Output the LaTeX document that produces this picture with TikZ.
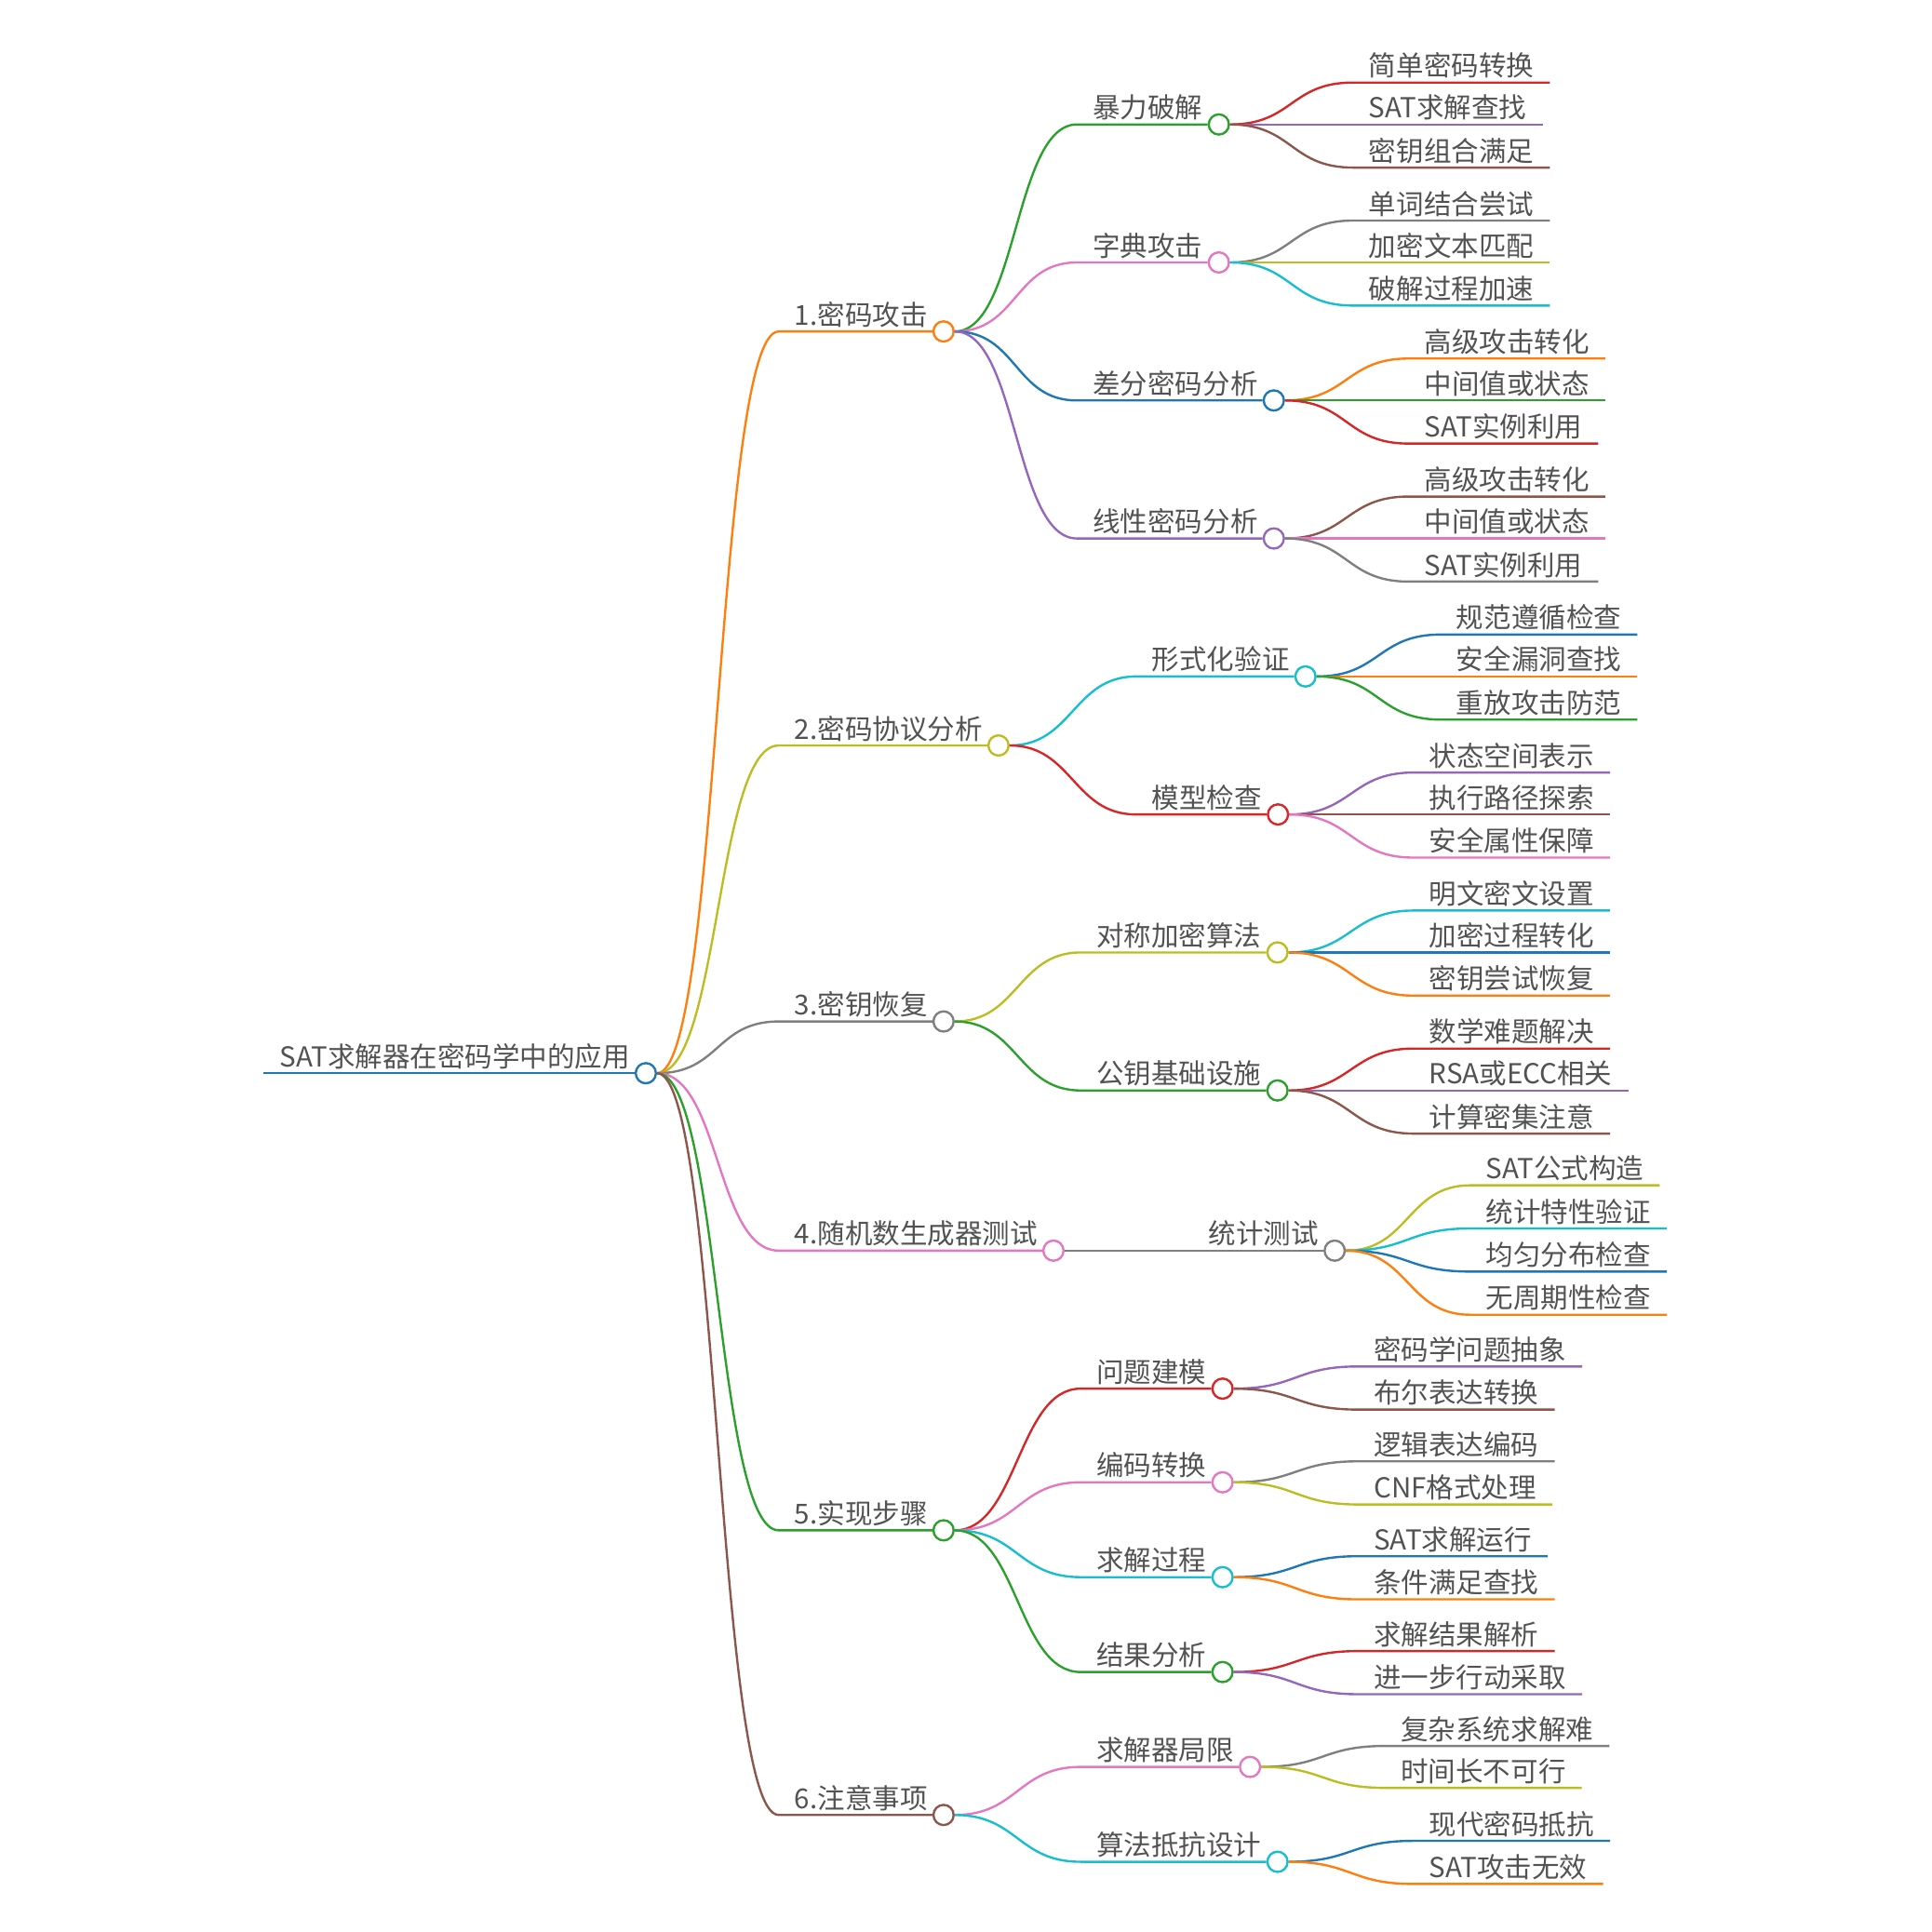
\documentclass[tikz,border=0pt]{standalone}
\usepackage{fontspec}
\setmainfont{Noto Sans CJK SC}
\usepackage{xcolor}
\usepackage{tikz}

\definecolor{cblue}{HTML}{1F77B4}
\definecolor{corange}{HTML}{FF7F0E}
\definecolor{cgreen}{HTML}{2CA02C}
\definecolor{cred}{HTML}{D62728}
\definecolor{cpurple}{HTML}{9467BD}
\definecolor{cbrown}{HTML}{8C564B}
\definecolor{cpink}{HTML}{E377C2}
\definecolor{cgray}{HTML}{7F7F7F}
\definecolor{colive}{HTML}{BCBD22}
\definecolor{ccyan}{HTML}{17BECF}
\definecolor{txtgray}{RGB}{82,82,82}

\begin{document}
\begin{tikzpicture}[x=0.5pt, y=-0.5pt, every node/.style={font=\fontsize{11.15}{13}\selectfont, text=txtgray}]
        % Styles for topics, dots and links
        \tikzstyle{topic} = [anchor=south west, inner xsep=6.3pt, inner ysep=0pt, text depth=2.4pt]
        \tikzstyle{dot} = [circle, draw, fill=white, line width=0.9pt, inner sep=0pt, minimum size=8.2pt]
        \tikzstyle{link} = [line width=0.9pt]
        \tikzstyle{branch} = [out=0, in=180, distance=25.5pt]

        \useasboundingbox (0,0) rectangle (1568,1568);

        % Root
        \node[topic] (root) at (214,871) {SAT求解器在密码学中的应用};
        \node[dot, draw=cblue] (rootd) at (root.south east) {};
        \draw[link, cblue] (root.south west) -- (rootd.west);

        % Main branches
        \node[topic] (atk) at (632,269) {1.密码攻击};
        \node[dot, draw=corange] (atkd) at (atk.south east) {};
        \draw[link, corange] (rootd.east) to[branch] (atk.south west) -- (atkd.west);

        \node[topic] (proto) at (632,605) {2.密码协议分析};
        \node[dot, draw=colive] (protod) at (proto.south east) {};
        \draw[link, colive] (rootd.east) to[branch] (proto.south west) -- (protod.west);

        \node[topic] (keyrec) at (632,829) {3.密钥恢复};
        \node[dot, draw=cgray] (keyrecd) at (keyrec.south east) {};
        \draw[link, cgray] (rootd.east) to[branch] (keyrec.south west) -- (keyrecd.west);

        \node[topic] (rng) at (632,1015) {4.随机数生成器测试};
        \node[dot, draw=cpink] (rngd) at (rng.south east) {};
        \draw[link, cpink] (rootd.east) to[branch] (rng.south west) -- (rngd.west);

        \node[topic] (impl) at (632,1242) {5.实现步骤};
        \node[dot, draw=cgreen] (impld) at (impl.south east) {};
        \draw[link, cgreen] (rootd.east) to[branch] (impl.south west) -- (impld.west);

        \node[topic] (note) at (632,1473) {6.注意事项};
        \node[dot, draw=cbrown] (noted) at (note.south east) {};
        \draw[link, cbrown] (rootd.east) to[branch] (note.south west) -- (noted.west);

        % 1. attacks
        \node[topic] (brute) at (874,101) {暴力破解};
        \node[dot, draw=cgreen] (bruted) at (brute.south east) {};
        \draw[link, cgreen] (atkd.east) to[branch] (brute.south west) -- (bruted.west);

        \node[topic] (dict) at (874,213) {字典攻击};
        \node[dot, draw=cpink] (dictd) at (dict.south east) {};
        \draw[link, cpink] (atkd.east) to[branch] (dict.south west) -- (dictd.west);

        \node[topic] (diff) at (874,325) {差分密码分析};
        \node[dot, draw=cblue] (diffd) at (diff.south east) {};
        \draw[link, cblue] (atkd.east) to[branch] (diff.south west) -- (diffd.west);

        \node[topic] (lin) at (874,437) {线性密码分析};
        \node[dot, draw=cpurple] (lind) at (lin.south east) {};
        \draw[link, cpurple] (atkd.east) to[branch] (lin.south west) -- (lind.west);

        \node[topic] (brute1) at (1098,67) {简单密码转换};
        \draw[link, cred] (bruted.east) to[branch] (brute1.south west) -- (brute1.south east);
        \node[topic] (brute2) at (1098,101) {SAT求解查找};
        \draw[link, cpurple] (bruted.east) to[branch] (brute2.south west) -- (brute2.south east);
        \node[topic] (brute3) at (1098,136) {密钥组合满足};
        \draw[link, cbrown] (bruted.east) to[branch] (brute3.south west) -- (brute3.south east);

        \node[topic] (dict1) at (1098,179) {单词结合尝试};
        \draw[link, cgray] (dictd.east) to[branch] (dict1.south west) -- (dict1.south east);
        \node[topic] (dict2) at (1098,213) {加密文本匹配};
        \draw[link, colive] (dictd.east) to[branch] (dict2.south west) -- (dict2.south east);
        \node[topic] (dict3) at (1098,248) {破解过程加速};
        \draw[link, ccyan] (dictd.east) to[branch] (dict3.south west) -- (dict3.south east);

        \node[topic] (diff1) at (1143,291) {高级攻击转化};
        \draw[link, corange] (diffd.east) to[branch] (diff1.south west) -- (diff1.south east);
        \node[topic] (diff2) at (1143,325) {中间值或状态};
        \draw[link, cgreen] (diffd.east) to[branch] (diff2.south west) -- (diff2.south east);
        \node[topic] (diff3) at (1143,360) {SAT实例利用};
        \draw[link, cred] (diffd.east) to[branch] (diff3.south west) -- (diff3.south east);

        \node[topic] (lin1) at (1143,403) {高级攻击转化};
        \draw[link, cbrown] (lind.east) to[branch] (lin1.south west) -- (lin1.south east);
        \node[topic] (lin2) at (1143,437) {中间值或状态};
        \draw[link, cpink] (lind.east) to[branch] (lin2.south west) -- (lin2.south east);
        \node[topic] (lin3) at (1143,472) {SAT实例利用};
        \draw[link, cgray] (lind.east) to[branch] (lin3.south west) -- (lin3.south east);

        % 2. protocols
        \node[topic] (formal) at (922,549) {形式化验证};
        \node[dot, draw=ccyan] (formald) at (formal.south east) {};
        \draw[link, ccyan] (protod.east) to[branch] (formal.south west) -- (formald.west);

        \node[topic] (model) at (922,661) {模型检查};
        \node[dot, draw=cred] (modeld) at (model.south east) {};
        \draw[link, cred] (protod.east) to[branch] (model.south west) -- (modeld.west);

        \node[topic] (formal1) at (1169,515) {规范遵循检查};
        \draw[link, cblue] (formald.east) to[branch] (formal1.south west) -- (formal1.south east);
        \node[topic] (formal2) at (1169,549) {安全漏洞查找};
        \draw[link, corange] (formald.east) to[branch] (formal2.south west) -- (formal2.south east);
        \node[topic] (formal3) at (1169,584) {重放攻击防范};
        \draw[link, cgreen] (formald.east) to[branch] (formal3.south west) -- (formal3.south east);

        \node[topic] (model1) at (1147,627) {状态空间表示};
        \draw[link, cpurple] (modeld.east) to[branch] (model1.south west) -- (model1.south east);
        \node[topic] (model2) at (1147,661) {执行路径探索};
        \draw[link, cbrown] (modeld.east) to[branch] (model2.south west) -- (model2.south east);
        \node[topic] (model3) at (1147,696) {安全属性保障};
        \draw[link, cpink] (modeld.east) to[branch] (model3.south west) -- (model3.south east);

        % 3. key recovery
        \node[topic] (sym) at (877,773) {对称加密算法};
        \node[dot, draw=colive] (symd) at (sym.south east) {};
        \draw[link, colive] (keyrecd.east) to[branch] (sym.south west) -- (symd.west);

        \node[topic] (pki) at (877,885) {公钥基础设施};
        \node[dot, draw=cgreen] (pkid) at (pki.south east) {};
        \draw[link, cgreen] (keyrecd.east) to[branch] (pki.south west) -- (pkid.west);

        \node[topic] (sym1) at (1147,739) {明文密文设置};
        \draw[link, ccyan] (symd.east) to[branch] (sym1.south west) -- (sym1.south east);
        \node[topic] (sym2) at (1147,773) {加密过程转化};
        \draw[link, cblue] (symd.east) to[branch] (sym2.south west) -- (sym2.south east);
        \node[topic] (sym3) at (1147,808) {密钥尝试恢复};
        \draw[link, corange] (symd.east) to[branch] (sym3.south west) -- (sym3.south east);

        \node[topic] (pki1) at (1147,851) {数学难题解决};
        \draw[link, cred] (pkid.east) to[branch] (pki1.south west) -- (pki1.south east);
        \node[topic] (pki2) at (1147,885) {RSA或ECC相关};
        \draw[link, cpurple] (pkid.east) to[branch] (pki2.south west) -- (pki2.south east);
        \node[topic] (pki3) at (1147,920) {计算密集注意};
        \draw[link, cbrown] (pkid.east) to[branch] (pki3.south west) -- (pki3.south east);

        % 4. random number generators
        \node[topic] (stat) at (968,1015) {统计测试};
        \node[dot, draw=cgray] (statd) at (stat.south east) {};
        \draw[link, cgray] (rngd.east) to[branch] (stat.south west) -- (statd.west);

        \node[topic] (stat1) at (1193,962) {SAT公式构造};
        \draw[link, colive] (statd.east) to[branch] (stat1.south west) -- (stat1.south east);
        \node[topic] (stat2) at (1193,997) {统计特性验证};
        \draw[link, ccyan] (statd.east) to[branch] (stat2.south west) -- (stat2.south east);
        \node[topic] (stat3) at (1193,1032) {均匀分布检查};
        \draw[link, cblue] (statd.east) to[branch] (stat3.south west) -- (stat3.south east);
        \node[topic] (stat4) at (1193,1067) {无周期性检查};
        \draw[link, corange] (statd.east) to[branch] (stat4.south west) -- (stat4.south east);

        % 5. steps
        \node[topic] (modeling) at (877,1127) {问题建模};
        \node[dot, draw=cred] (modelingd) at (modeling.south east) {};
        \draw[link, cred] (impld.east) to[branch] (modeling.south west) -- (modelingd.west);

        \node[topic] (encode) at (877,1203) {编码转换};
        \node[dot, draw=cpink] (encoded) at (encode.south east) {};
        \draw[link, cpink] (impld.east) to[branch] (encode.south west) -- (encoded.west);

        \node[topic] (solve) at (877,1280) {求解过程};
        \node[dot, draw=ccyan] (solved) at (solve.south east) {};
        \draw[link, ccyan] (impld.east) to[branch] (solve.south west) -- (solved.west);

        \node[topic] (result) at (877,1357) {结果分析};
        \node[dot, draw=cgreen] (resultd) at (result.south east) {};
        \draw[link, cgreen] (impld.east) to[branch] (result.south west) -- (resultd.west);

        \node[topic] (modeling1) at (1102,1109) {密码学问题抽象};
        \draw[link, cpurple] (modelingd.east) to[branch] (modeling1.south west) -- (modeling1.south east);
        \node[topic] (modeling2) at (1102,1144) {布尔表达转换};
        \draw[link, cbrown] (modelingd.east) to[branch] (modeling2.south west) -- (modeling2.south east);

        \node[topic] (encode1) at (1102,1186) {逻辑表达编码};
        \draw[link, cgray] (encoded.east) to[branch] (encode1.south west) -- (encode1.south east);
        \node[topic] (encode2) at (1102,1221) {CNF格式处理};
        \draw[link, colive] (encoded.east) to[branch] (encode2.south west) -- (encode2.south east);

        \node[topic] (solve1) at (1102,1263) {SAT求解运行};
        \draw[link, cblue] (solved.east) to[branch] (solve1.south west) -- (solve1.south east);
        \node[topic] (solve2) at (1102,1298) {条件满足查找};
        \draw[link, corange] (solved.east) to[branch] (solve2.south west) -- (solve2.south east);

        \node[topic] (result1) at (1102,1340) {求解结果解析};
        \draw[link, cred] (resultd.east) to[branch] (result1.south west) -- (result1.south east);
        \node[topic] (result2) at (1102,1375) {进一步行动采取};
        \draw[link, cpurple] (resultd.east) to[branch] (result2.south west) -- (result2.south east);

        % 6. notes
        \node[topic] (limit) at (877,1434) {求解器局限};
        \node[dot, draw=cpink] (limitd) at (limit.south east) {};
        \draw[link, cpink] (noted.east) to[branch] (limit.south west) -- (limitd.west);

        \node[topic] (resist) at (877,1511) {算法抵抗设计};
        \node[dot, draw=ccyan] (resistd) at (resist.south east) {};
        \draw[link, ccyan] (noted.east) to[branch] (resist.south west) -- (resistd.west);

        \node[topic] (limit1) at (1124,1417) {复杂系统求解难};
        \draw[link, cgray] (limitd.east) to[branch] (limit1.south west) -- (limit1.south east);
        \node[topic] (limit2) at (1124,1451) {时间长不可行};
        \draw[link, colive] (limitd.east) to[branch] (limit2.south west) -- (limit2.south east);

        \node[topic] (resist1) at (1147,1494) {现代密码抵抗};
        \draw[link, cblue] (resistd.east) to[branch] (resist1.south west) -- (resist1.south east);
        \node[topic] (resist2) at (1147,1529) {SAT攻击无效};
        \draw[link, corange] (resistd.east) to[branch] (resist2.south west) -- (resist2.south east);
    \end{tikzpicture}
\end{document}
